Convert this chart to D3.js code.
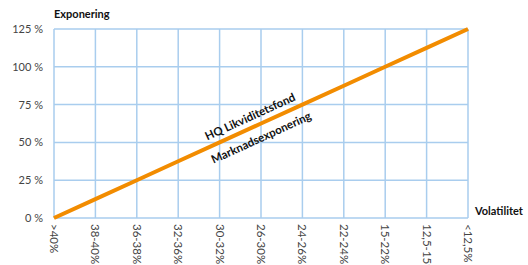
<!DOCTYPE html>
<html>
<head>
<meta charset="utf-8">
<script src="https://cdn.jsdelivr.net/npm/d3@7"></script>
<style>
  body { margin: 0; background: #fff; }
  svg { display: block; font-family: "Lato", "Noto Sans", sans-serif; }
</style>
</head>
<body>
<div id="chart"></div>
<script>
const categories = [">40%", "38-40%", "36-38%", "32-36%", "30-32%", "26-30%", "24-26%", "22-24%", "15-22%", "12,5-15%", "<12,5%"];
const exposure = [0, 12.5, 25, 37.5, 50, 62.5, 75, 87.5, 100, 112.5, 125];
const yTicks = [0, 25, 50, 75, 100, 125];

const width = 528, height = 265;
const margin = { top: 29, right: 60, bottom: 47, left: 54 };

const svg = d3.select("#chart")
  .append("svg")
  .attr("width", width)
  .attr("height", height);

const x = d3.scalePoint()
  .domain(categories)
  .range([margin.left, width - margin.right]);

const y = d3.scaleLinear()
  .domain([0, 125])
  .range([height - margin.bottom, margin.top]);

const gridColor = "#a9cdee";

// grid
svg.append("g")
  .selectAll("line")
  .data(categories)
  .join("line")
  .attr("x1", d => x(d)).attr("x2", d => x(d))
  .attr("y1", y(0)).attr("y2", y(125))
  .attr("stroke", gridColor)
  .attr("stroke-width", 1.5);

svg.append("g")
  .selectAll("line")
  .data(yTicks)
  .join("line")
  .attr("x1", x(categories[0])).attr("x2", x(categories[categories.length - 1]))
  .attr("y1", d => y(d)).attr("y2", d => y(d))
  .attr("stroke", gridColor)
  .attr("stroke-width", 1.5);

// y labels
svg.append("g")
  .selectAll("text")
  .data(yTicks)
  .join("text")
  .attr("x", margin.left - 11)
  .attr("y", d => y(d) + 4)
  .attr("text-anchor", "end")
  .attr("font-size", 11)
  .attr("fill", "#444")
  .text(d => d + " %");

// x labels, rotated
svg.append("g")
  .selectAll("text")
  .data(categories)
  .join("text")
  .attr("transform", d => `translate(${x(d) - 4}, ${y(0) + 6}) rotate(90)`)
  .attr("font-size", 11.5)
  .attr("fill", "#444")
  .text(d => d);

// axis titles
svg.append("text")
  .attr("x", margin.left)
  .attr("y", 18)
  .attr("font-size", 11)
  .attr("font-weight", "bold")
  .attr("fill", "#111")
  .text("Exponering");

svg.append("text")
  .attr("x", x(categories[categories.length - 1]) + 7)
  .attr("y", y(0) - 3)
  .attr("font-size", 11)
  .attr("font-weight", "bold")
  .attr("fill", "#111")
  .text("Volatilitet");

// line
const line = d3.line()
  .x((d, i) => x(categories[i]))
  .y(d => y(d));

svg.append("path")
  .datum(exposure)
  .attr("fill", "none")
  .attr("stroke", "#f28c00")
  .attr("stroke-width", 4)
  .attr("d", line);

// annotation along the line
const angle = Math.atan2(y(125) - y(0), x(categories[10]) - x(categories[0])) * 180 / Math.PI;
const mid = 4.85;
const mx = x(categories[0]) + (x(categories[10]) - x(categories[0])) * mid / 10;
const my = y(mid * 12.5);

svg.append("text")
  .attr("transform", `translate(${mx - 3}, ${my - 6}) rotate(${angle})`)
  .attr("text-anchor", "middle")
  .attr("font-size", 11.5)
  .attr("font-weight", "bold")
  .attr("fill", "#111")
  .text("HQ Likviditetsfond");

svg.append("text")
  .attr("transform", `translate(${mx + 8}, ${my + 15}) rotate(${angle})`)
  .attr("text-anchor", "middle")
  .attr("font-size", 11.5)
  .attr("font-weight", "bold")
  .attr("fill", "#111")
  .text("Marknadsexponering");
</script>
</body>
</html>
